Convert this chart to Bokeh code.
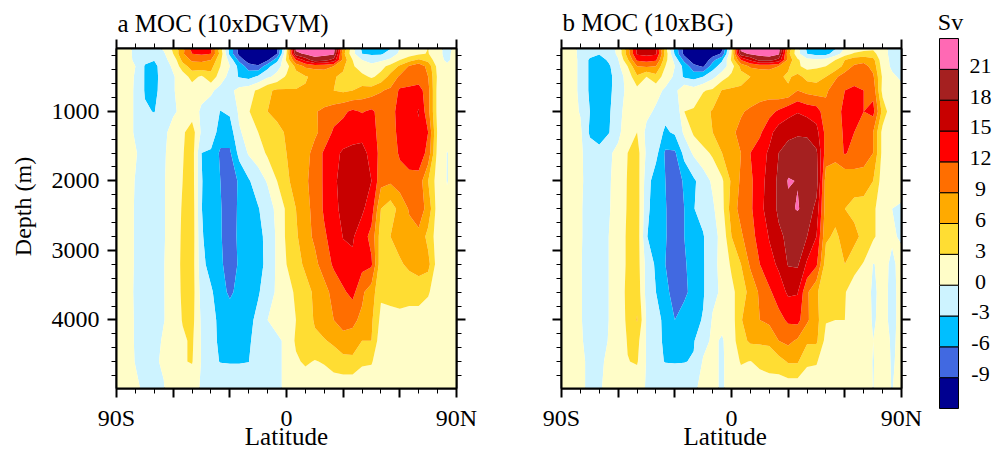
from bokeh.plotting import figure
from bokeh.layouts import row
from bokeh.models import Range1d, LinearAxis, FixedTicker, CustomLabelingPolicy
from bokeh.core.properties import value
from bokeh.embed import file_html
from bokeh.resources import INLINE

FONT = "Liberation Serif"
lats = [-90 + 5 * k for k in range(37)]
depths = [95, 170, 260, 350, 500, 700, 1000, 1300, 1600, 2000, 2400, 2800, 3200, 3600, 4000, 4300, 4600, 4987]
levels = [-13, -9, -6, -3, 0, 3, 6, 9, 12, 15, 18, 21, 25]
colors = ["#000090", "#4169E1", "#00BFFF", "#CDF3FF", "#FFFDC8", "#FFDD33",
          "#FFAA00", "#FF6E00", "#FF0000", "#C80000", "#A52020", "#FF69B4"]
bar_labels = ["-9", "-6", "-3", "0", "3", "6", "9", "12", "15", "18", "21"]

moc_a = [
 [1,.8,-.5,-1,-1,.5,3.5,8,13,12.5,12.5,4,-4,-10,-12,-12,-11,-9.5,2,22,23,23,23,22.5,8,1,-3.5,-4,-4.5,-3.2,0,1,1.5,3,1,-1,1],
 [1,.8,-.5,-1,-1,-.5,3,8.5,12,12.5,12,5,-4,-10,-12,-12,-11,-9,3,20,21.5,22,22,21.5,7,1,-3,-3.5,-3.5,-1.5,.5,1.5,2.5,3.2,.5,-.5,.8],
 [1,1,-.5,-2.5,-2.9,-.5,.7,7,9.5,9.5,9,3.5,-1,-7,-11,-12,-9.5,-4,3.5,12,16,20,19,17,8,3,0,-1,-.5,.5,3,5,6.5,5,1,-.5,1],
 [1,1,0,-3.2,-3.8,-1.5,.5,4.5,7.5,8,7,3,0,-4,-7.5,-8.5,-4,-1,1.5,7,9.5,10,10,9,6.5,3.5,1,.8,2,4,6.5,9.3,11,8,2,.5,1],
 [1,1,-.2,-3.2,-3.8,-1.8,-.3,1.5,4,2.5,5,1.5,-1,-3.3,-4,-2.5,-.5,.8,3.5,4.5,5.8,6.5,7,6.2,5.5,6,4,2.5,4,7,9.5,10,10,9,2.5,.8,1],
 [1,1,-.3,-3.2,-3.8,-1.6,-.2,1,1.5,1,.5,-1,-.8,1,2,3.5,5.5,6.5,6.3,6.2,6.2,6.8,7,6,5.5,6,7,7.5,8.8,9.5,12.5,12.8,13.5,10,2,.8,1],
 [1,1,-.3,-2.7,-3.1,-1.5,-.3,.5,1.5,-.5,-1.5,-3.1,-2.5,.5,2.9,4,6,6.5,7,7.5,8.5,8.8,9.5,10.5,11.5,12.5,11.8,12.5,11,11.5,12.5,13.5,15.2,10,2,1,1],
 [1,1,-.3,-1.5,-1.5,-.5,.8,2.5,4.5,-.5,-1,-4.5,-4.5,-.3,1,3,4.5,5.5,6.2,6.8,7.5,8.5,10,12.5,13,13.5,14,13,11,10.5,13,14,14.5,12,2.5,1,1],
 [1,1,.2,-1,-1.3,-.3,1,2.8,4.5,-3,-3.5,-6.5,-6.5,-2,.3,1.5,3.5,5,6,6.8,8,10,12.5,14,15.5,16,16,14,11,10,12.5,13.5,14,11,2,-.1,1],
 [1,1,-.1,-1.2,-1.3,-.2,1.2,3,4.5,-2.8,-5,-6,-8,-5.5,-3.3,-1.5,.3,3,5.5,7,8.6,10,12.5,14.5,16,16.5,16.5,15,10,9.5,10.5,11,10.8,6,1.5,-.1,1],
 [1,1,-.2,-1.2,-1.3,-.2,1.2,3.3,4.8,-2.9,-5,-5.8,-7.5,-5.5,-4.5,-3.2,-1.5,.8,3.5,6,8.3,9.7,12.5,14,16,16.5,15.5,13.5,6,4.5,7,9.3,10.5,8,1.5,.5,1],
 [1,1,-.2,-1.2,-1.3,-.2,1.2,3.5,4.8,-2.5,-5.2,-5.8,-7.2,-5.5,-5,-3.8,-2.2,.5,3.5,5.5,8,9.5,11.5,13.5,15.1,15.3,13.5,11,4.5,6,7.5,8,8.3,5,1.5,1,1],
 [1,1,-.2,-1.2,-1.3,-.1,1.3,3.6,4.5,-2,-4.3,-5.7,-6.8,-5.8,-5,-4,-2.2,.5,3,5,6.5,8.3,10.3,12.5,14,14.5,13,12.5,4,4.5,5.5,6.8,7.5,7,1.5,1,1],
 [1,1,-.3,-1,-1.2,-.1,1.2,3.5,4.5,-1.2,-2.5,-5,-6.5,-5.2,-4.7,-3.3,-1.5,.5,2.5,3.2,5,6.5,8,10,11.5,13,9.5,7.5,3.5,3.5,3.3,3.5,4,3.3,1.5,1,1],
 [1,1,-.2,-1,-1.1,-.1,1,3.2,4,-.5,-2,-3.8,-4.5,-4.2,-3.8,-2.2,0,1,1.5,3,4.5,6.3,7.5,9,10.3,9.5,8.5,6.5,2.2,2.5,2.8,2.5,2,1.5,1,1,1],
 [1,1,-.2,-1,-.8,.3,.8,2.5,3.5,-.3,-2,-3.6,-3.8,-3.8,-3.2,-2.4,-1.2,-.5,.5,3.5,5,5.5,5.8,6.5,7.8,8.2,6,6,1,1.5,1.2,1,1,1,1,1,1],
 [1,1,-.1,-.5,-.2,.2,1,2.8,3.2,-.2,-2.4,-3.1,-3.2,-3.2,-3.05,-1.5,-1,-.5,.5,2.5,3.5,2.8,3.3,4.5,5,5,3.5,3.3,.8,1,1,1,1,1,1,1,1],
 [1,1,.5,-.5,-.3,-.1,1,1,1,-.3,-.5,-.6,-.6,-.6,-.6,-.6,-.5,-.3,.3,.8,.8,.8,.8,.8,.8,.8,.8,.8,.8,.8,.8,.8,.8,.8,.8,.8,.8],
]
moc_b = [
 [1,.8,-.5,-1.5,-1.5,-1,.5,7.5,15.5,15.5,15.5,4,-4,-10,-12,-12,-12,-9.5,2,22,23,23.5,23.5,22.5,8,1,-3.5,-6,-6.5,-3.2,.2,1,2,2.5,1,-.8,-.8],
 [1,.8,-.5,-2,-2.8,-1.5,.5,7.5,15.5,16,15.5,5,-3.5,-10,-12,-12,-11,-8.5,3,20,21.5,22,22.5,21.5,7,1,-3,-4.2,-4,-1.5,1.5,3.5,4,4,1,-.8,-.8],
 [1,1,-.5,-3.5,-4.5,-2.5,-.2,5.5,12.5,13,12.5,4,-1,-7,-11,-12,-7,-3.5,3.5,12,15.5,19,19,17,8,3.5,1,.5,1,3,6,7.5,8,7,1,-.5,-.8],
 [1,1,-.5,-3.5,-5,-3.5,-.8,3,9,9.5,9,3,0,-4,-8,-9.5,-4.5,-1.5,1.5,7,9.5,10,10,9,6.5,3.5,2,2.5,3,4,7,9.5,10,8,1.5,-.5,-.8],
 [1,1,-.5,-3.5,-5,-4,-1.3,1,5.5,3,5,1.5,-.5,-3.5,-4.2,-3,-.8,1.5,3.8,4.7,6,6.5,7,6.5,5.5,7,5,4.8,6,8.5,10.5,11,11,9.5,2.5,.5,-.5],
 [1,1,-.5,-3.5,-4.5,-4,-1,.5,2,1.5,1,-.5,-1,2.5,1.5,2.8,3.5,6.2,6.5,6.7,7,7.2,7.5,6.5,6.5,9,8,7.5,8.5,10.5,12,12.5,12,11,2,.8,.8],
 [1,1,-.2,-3,-4.5,-3.5,-.8,1,1.5,.8,-.5,-2,-3,3,3.3,5,6.3,7,7.8,8.7,9.5,10.5,11,12.5,14,14.8,14,13.5,10,10.5,13,13.5,12,13,5,.8,1],
 [1,1,.5,-3.5,-4.5,-3.2,-.8,2,3,-.8,-1.5,-3.5,-2.5,.5,3.5,5,6,7,8.5,9.7,10.5,11.5,14,16.5,17,17.5,17.5,16,11,10.5,12.5,12,10.8,9,2,1,1],
 [1,1,.5,-1.5,-2,-.5,.8,3,4.2,-.5,-2,-6.5,-6.5,-2,.5,2,3.5,6,7.5,9,12,13.5,15.5,18,19.5,20,19.5,18.5,10.5,10,12.3,11,10.5,9,2,1,1],
 [1,1,.5,-1.2,-1.5,-.3,1,3.2,4.5,-1.5,-4.8,-6,-8,-5.5,-3.5,-1.5,.5,2.5,6.5,9.5,11.5,13.5,16.5,18.5,21.2,20.9,20.5,19.5,7.5,7,6.5,7.5,7.5,6,1.5,1,1],
 [1,1,.3,-1.2,-1.5,-.2,1,3.3,4.7,-2,-5,-5.8,-7.8,-6,-3.1,-2,-.5,2,7.5,10,11.5,14,16.5,18.5,20.5,21.2,20,17,7.5,7,6,5,4.8,3.5,1.5,0,-.3],
 [1,1,.3,-1.2,-1.4,0,1.2,3.5,4.8,-2.8,-5,-5.8,-7.5,-6,-4.8,-3.2,-1,.8,6,8.5,11,13,15.2,17.5,18.5,18.8,18,15,6.5,5.5,7,7,5,3.5,1.5,.2,-.2],
 [1,1,.2,-1.2,-1.4,0,1.2,3.5,4.5,-1,-3.5,-6,-7.5,-6.3,-5,-3.3,-.8,.8,3.5,6,9.5,12,14,15.5,18.2,18.4,14.5,12.5,4.5,5,6,4,2.8,-.1,.5,-.3,.5],
 [1,1,.2,-1,-1.2,0,1.2,3.8,5,-1,-3,-5,-7.5,-6.5,-5.2,-3.3,-.8,.5,2.2,4.5,7,9.5,11.5,13.5,15.5,15.2,9.5,6.5,3.5,3.5,3.2,1.5,1,-.3,.5,-.4,.5],
 [1,1,.2,-1,-1.2,0,1.2,3.6,6.2,-.3,-2,-3.8,-6,-5,-3.8,-2.8,.3,.8,1.5,5.8,7.5,9,9.8,11,12.5,13,9.5,7,3.2,3,3,1,1,-.2,.5,-.4,.5],
 [1,1,.3,-.8,-.8,.1,1,3.2,4,-.3,-2,-3.6,-4,-3.8,-3.2,-1,.5,-.3,1.5,5,6.5,6.5,6.5,9,9.8,8.5,6.5,6.5,2,1,1,1,1,0,1,-.3,.5],
 [1,1,.5,-.5,-.3,.3,1,2.9,3.3,-.2,-2.5,-3.1,-3.2,-3.1,-2.8,.3,.5,-.3,1,3.3,2.9,3.8,4.5,4.8,6.3,6.3,3.5,3.3,.8,1,1,1,1,-.1,1,-.2,.5],
 [1,1,.5,-.5,-.2,.5,1,1,1,-.2,-.5,-.5,-.5,-.5,-.3,.5,.5,-.3,1,1,1,1,1,1,1,1,1,1,1,1,1,1,1,-.05,1,-.1,1],
]

NO_LABELS = "return []"
EVERY_THIRD = "return [...indices].filter((i) => i % 3 == 0)"

def label_axis(text, size, standoff):
    return LinearAxis(ticker=FixedTicker(ticks=[]), axis_label=text, axis_label_text_font=FONT,
                      axis_label_text_font_size=size, axis_label_text_font_style="normal",
                      axis_label_text_color="black", axis_line_color=None, major_tick_out=0, minor_tick_out=0,
                      major_tick_in=0, minor_tick_in=0, major_label_standoff=0, major_label_text_font_size="0px",
                      major_label_policy=CustomLabelingPolicy(code=NO_LABELS),
                      axis_label_standoff=standoff)

def panel(z, title, width, left, right, title_standoff, lat_label):
    p = figure(width=width, height=449, output_backend="svg", toolbar_location=None,
               x_range=Range1d(-90, 90), y_range=Range1d(4987, 95), frame_height=340, frame_width=340,
               min_border_left=left, min_border_right=right, min_border_top=48, min_border_bottom=61,
               title=title, frame_align=False)
    p.contour(lats, depths, z, levels, fill_color=colors, line_color=None)
    p.grid.visible = False
    p.outline_line_color = "black"
    p.outline_line_width = 2
    p.title.text_font = FONT
    p.title.text_font_size = "25px"
    p.title.text_font_style = "normal"
    p.title.text_color = "black"
    p.title.offset = 1
    p.title.standoff = title_standoff
    xt = FixedTicker(ticks=[-90, -60, -30, 0, 30, 60, 90], minor_ticks=list(range(-90, 91, 10)))
    yt = FixedTicker(ticks=[1000, 2000, 3000, 4000], minor_ticks=list(range(200, 5000, 200)))
    p.add_layout(LinearAxis(ticker=xt, major_label_policy=CustomLabelingPolicy(code=NO_LABELS),
                            major_label_text_font_size="0px", major_label_standoff=0), "above")
    p.add_layout(LinearAxis(ticker=yt, major_label_policy=CustomLabelingPolicy(code=NO_LABELS),
                            major_label_text_font_size="0px", major_label_standoff=0), "right")
    for ax in p.axis:
        ax.axis_line_width = 2
        ax.axis_line_color = "black"
        ax.major_tick_line_color = "black"
        ax.minor_tick_line_color = "black"
        ax.major_tick_line_width = 2
        ax.minor_tick_line_width = 1
        ax.major_tick_in = 0
        ax.major_tick_out = 9
        ax.minor_tick_in = 0
        ax.minor_tick_out = 5
        ax.major_label_text_color = "black"
    for ax in (p.below[0], p.left[0]):
        ax.major_label_text_font = FONT
        ax.major_label_text_font_size = "24px"
    p.below[0].ticker = xt
    p.below[0].major_label_overrides = {-90: "90S", -60: "", -30: "", 0: "0", 30: "", 60: "", 90: "90N"}
    p.below[0].major_label_policy = CustomLabelingPolicy(code=EVERY_THIRD)
    p.below[0].major_label_standoff = 7
    p.left[0].ticker = yt
    p.left[0].major_label_standoff = 8
    p.add_layout(label_axis(lat_label, "25px", -11), "below")
    return p

pa = panel(moc_a, "a MOC (10xDGVM)", 500, 116, 44, 6, "Latitude")
pa.add_layout(label_axis("\u00a0\u00a0\u00a0\u00a0Depth (m)", "24px", 13), "left")
pb = panel(moc_b, "b MOC (10xBG)", 425, 61, 24, 8, "Latitude\u00a0\u00a0")
pb.left[0].major_label_policy = CustomLabelingPolicy(code=NO_LABELS)
pb.left[0].major_label_text_font_size = "0px"

bar = figure(width=67, height=449, output_backend="svg", toolbar_location=None,
             x_range=Range1d(0, 67), y_range=Range1d(-15.99, 27.7),
             x_axis_type=None, y_axis_type=None, frame_align=False,
             min_border_left=0, min_border_right=0, min_border_top=0, min_border_bottom=0)
bar.grid.visible = False
bar.outline_line_color = None
bar_lo = [-12] + levels[1:-1]
bar_hi = levels[1:-1] + [24]
bar.quad(left=14, right=33, bottom=bar_lo, top=bar_hi, fill_color=colors, line_color="black", line_width=1)
bar.text(x=[55] * len(bar_labels), y=[float(v) + 0.35 for v in bar_labels], text=bar_labels,
         text_font=value(FONT), text_font_size="22px", text_align="center", text_baseline="middle", text_color="black")
bar.text(x=[25], y=[25.56], text=["Sv"], text_font=value(FONT), text_font_size="24px",
         text_align="center", text_baseline="middle", text_color="black")

layout = row(pa, pb, bar, spacing=0)
open("out.html", "w").write(file_html(layout, INLINE))
